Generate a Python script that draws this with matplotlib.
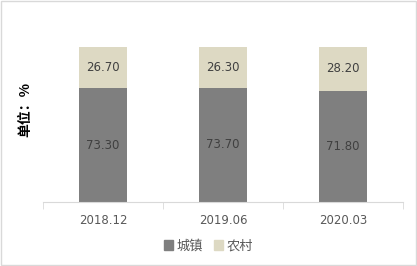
import matplotlib.pyplot as plt
from matplotlib.patches import Patch, Rectangle

plt.rcParams["font.family"] = ["Noto Sans CJK SC", "DejaVu Sans"]

periods = ["2018.12", "2019.06", "2020.03"]
urban = [73.30, 73.70, 71.80]
rural = [26.70, 26.30, 28.20]
series_names = ["城镇", "农村"]

urban_color = "#7f7f7f"
rural_color = "#ddd9c3"
grid_color = "#d9d9d9"

fig = plt.figure(figsize=(4.17, 2.66), dpi=100)
ax = fig.add_axes([43 / 417, 1 - 202 / 266, 360 / 417, 155 / 266])

x = range(len(periods))
ax.bar(x, urban, width=0.4, color=urban_color)
ax.bar(x, rural, width=0.4, bottom=urban, color=rural_color)

for i in x:
    ax.text(i, urban[i] / 2, f"{urban[i]:.2f}", ha="center", va="center",
            fontsize=8.5, color="#404040", family="DejaVu Sans")
    ax.text(i, urban[i] + rural[i] / 2, f"{rural[i]:.2f}", ha="center", va="center",
            fontsize=8.5, color="#404040", family="DejaVu Sans")

ax.set_xlim(-0.5, 2.5)
ax.set_ylim(0, 100)
ax.set_xticks(list(x))
ax.set_xticklabels(periods, fontsize=8.5, color="#595959", family="DejaVu Sans")
ax.set_xticks([-0.5, 0.5, 1.5, 2.5], minor=True)
ax.tick_params(axis="x", which="major", length=0, pad=9)
ax.tick_params(axis="x", which="minor", length=5, color=grid_color)
ax.set_yticks([])
for side in ["left", "right", "top"]:
    ax.spines[side].set_visible(False)
ax.spines["bottom"].set_color(grid_color)

fig.text(25 / 417, 1 - 109 / 266, "单位：%", rotation=90, ha="center", va="center",
         fontsize=10, fontweight="bold", color="black")

handles = [Patch(color=urban_color), Patch(color=rural_color)]
fig.legend(handles, series_names, loc="center", bbox_to_anchor=(0.5, 1 - 246 / 266),
           ncol=2, frameon=False, fontsize=9.5, handlelength=0.7, handleheight=0.7,
           handletextpad=0.3, columnspacing=0.8, labelcolor="#595959")

fig.patches.append(Rectangle((0.002, 0.003), 0.995, 0.993, transform=fig.transFigure,
                             fill=False, edgecolor=grid_color, linewidth=1))

fig.savefig("out.png", dpi=100)
